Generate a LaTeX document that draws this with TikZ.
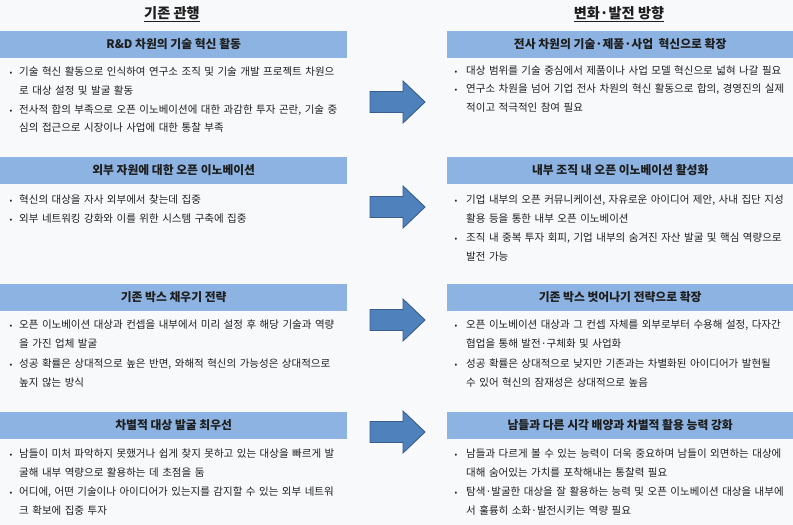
\documentclass[tikz,border=0pt]{standalone}
\usepackage{fontspec}
\setmainfont{Noto Sans CJK KR}
\definecolor{bg}{HTML}{F8F9FB}
\definecolor{hdrfill}{HTML}{8DB3E2}
\definecolor{arrfill}{HTML}{4F81BD}
\definecolor{arrline}{HTML}{385D8A}
\definecolor{txt}{HTML}{1E1E1E}
\tikzset{
  title/.style={font=\fontsize{14.2}{16}\selectfont\bfseries, text=txt, inner sep=0pt, anchor=center},
  hdr/.style={fill=hdrfill, draw=none, inner sep=0pt, anchor=north west, minimum height=26.5pt,
              font=\fontsize{11.8}{14}\selectfont\bfseries, text=txt},
  itemtext/.style={anchor=base west, text width=350pt, align=left, inner sep=0pt,
              font=\fontsize{10.5}{18.7}\selectfont, text=txt},
  bul/.style={anchor=base, inner sep=0pt, font=\fontsize{8}{10}\selectfont, text=txt},
  blockarrow/.style={fill=arrfill, draw=arrline, line width=0.9pt, line join=miter}
}
\begin{document}
\begin{tikzpicture}[x=1pt,y=-1pt]
\useasboundingbox[fill=bg] (0,0) rectangle (793,525);

% titles
\node[title] (tL) at (172,14) {\underline{기존 관행}};
\node[title] (tR) at (619,14) {\underline{변화·발전 방향}};

% header bars
\node[hdr, minimum width=347pt] (h1L) at (0,31) {R\&D 차원의 기술 혁신 활동};
\node[hdr, minimum width=346pt] (h1R) at (447,31) {전사 차원의 기술·제품·사업\ \ 혁신으로 확장};
\node[hdr, minimum width=347pt] (h2L) at (0,157) {외부 자원에 대한 오픈 이노베이션};
\node[hdr, minimum width=346pt] (h2R) at (447,157) {내부 조직 내 오픈 이노베이션 활성화};
\node[hdr, minimum width=347pt] (h3L) at (0,284) {기존 박스 채우기 전략};
\node[hdr, minimum width=346pt] (h3R) at (447,284) {기존 박스 벗어나기 전략으로 확장};
\node[hdr, minimum width=347pt] (h4L) at (0,412) {차별적 대상 발굴 최우선};
\node[hdr, minimum width=346pt] (h4R) at (447,412) {남들과 다른 시각 배양과 차별적 활용 능력 강화};

% ---------- group 1 ----------
\node[bul] (b1La) at (11,75.7) {•};
\node[itemtext] (i1La) at (19,75.7) {기술 혁신 활동으로 인식하여 연구소 조직 및 기술 개발 프로젝트 차원으\\로 대상 설정 및 발굴 활동};
\node[bul] (b1Lb) at (11,113) {•};
\node[itemtext] (i1Lb) at (19,113) {전사적 합의 부족으로 오픈 이노베이션에 대한 과감한 투자 곤란, 기술 중\\심의 접근으로 시장이나 사업에 대한 통찰 부족};

\node[bul] (b1Ra) at (456,74.7) {•};
\node[itemtext] (i1Ra) at (466,74.7) {대상 범위를 기술 중심에서 제품이나 사업 모델 혁신으로 넓혀 나갈 필요};
\node[bul] (b1Rb) at (456,92.7) {•};
\node[itemtext] (i1Rb) at (466,92.7) {연구소 차원을 넘어 기업 전사 차원의 혁신 활동으로 합의, 경영진의 실제\\적이고 적극적인 참여 필요};

% ---------- group 2 ----------
\node[bul] (b2La) at (11,203.7) {•};
\node[itemtext] (i2La) at (19,203.7) {혁신의 대상을 자사 외부에서 찾는데 집중};
\node[bul] (b2Lb) at (11,222.7) {•};
\node[itemtext] (i2Lb) at (19,222.7) {외부 네트워킹 강화와 이를 위한 시스템 구축에 집중};

\node[bul] (b2Ra) at (456,203.7) {•};
\node[itemtext] (i2Ra) at (466,203.7) {기업 내부의 오픈 커뮤니케이션, 자유로운 아이디어 제안, 사내 집단 지성\\활용 등을 통한 내부 오픈 이노베이션};
\node[bul] (b2Rb) at (456,241.7) {•};
\node[itemtext] (i2Rb) at (466,241.7) {조직 내 중복 투자 회피, 기업 내부의 숨겨진 자산 발굴 및 핵심 역량으로\\발전 가능};

% ---------- group 3 ----------
\node[bul] (b3La) at (11,328.7) {•};
\node[itemtext] (i3La) at (19,328.7) {오픈 이노베이션 대상과 컨셉을 내부에서 미리 설정 후 해당 기술과 역량\\을 가진 업체 발굴};
\node[bul] (b3Lb) at (11,367.7) {•};
\node[itemtext] (i3Lb) at (19,367.7) {성공 확률은 상대적으로 높은 반면, 와해적 혁신의 가능성은 상대적으로\\높지 않는 방식};

\node[bul] (b3Ra) at (456,328.7) {•};
\node[itemtext] (i3Ra) at (466,328.7) {오픈 이노베이션 대상과 그 컨셉 자체를 외부로부터 수용해 설정, 다자간\\협업을 통해 발전·구체화 및 사업화};
\node[bul] (b3Rb) at (456,367.7) {•};
\node[itemtext] (i3Rb) at (466,367.7) {성공 확률은 상대적으로 낮지만 기존과는 차별화된 아이디어가 발현될\\수 있어 혁신의 잠재성은 상대적으로 높음};

% ---------- group 4 ----------
\node[bul] (b4La) at (11,457.7) {•};
\node[itemtext] (i4La) at (19,457.7) {남들이 미처 파악하지 못했거나 쉽게 찾지 못하고 있는 대상을 빠르게 발\\굴해 내부 역량으로 활용하는 데 초점을 둠};
\node[bul] (b4Lb) at (11,495.7) {•};
\node[itemtext] (i4Lb) at (19,495.7) {어디에, 어떤 기술이나 아이디어가 있는지를 감지할 수 있는 외부 네트워\\크 확보에 집중 투자};

\node[bul] (b4Ra) at (456,457.7) {•};
\node[itemtext] (i4Ra) at (466,457.7) {남들과 다르게 볼 수 있는 능력이 더욱 중요하며 남들이 외면하는 대상에\\대해 숨어있는 가치를 포착해내는 통찰력 필요};
\node[bul] (b4Rb) at (456,495.7) {•};
\node[itemtext] (i4Rb) at (466,495.7) {탐색·발굴한 대상을 잘 활용하는 능력 및 오픈 이노베이션 대상을 내부에\\서 훌륭히 소화·발전시키는 역량 필요};

% ---------- block arrows ----------
\foreach \cy in {102,207,320,432}{
  \draw[blockarrow] (370,\cy-10.5) -- (403,\cy-10.5) -- (403,\cy-21) -- (425,\cy)
        -- (403,\cy+21) -- (403,\cy+10.5) -- (370,\cy+10.5) -- cycle;
}
\end{tikzpicture}
\end{document}
